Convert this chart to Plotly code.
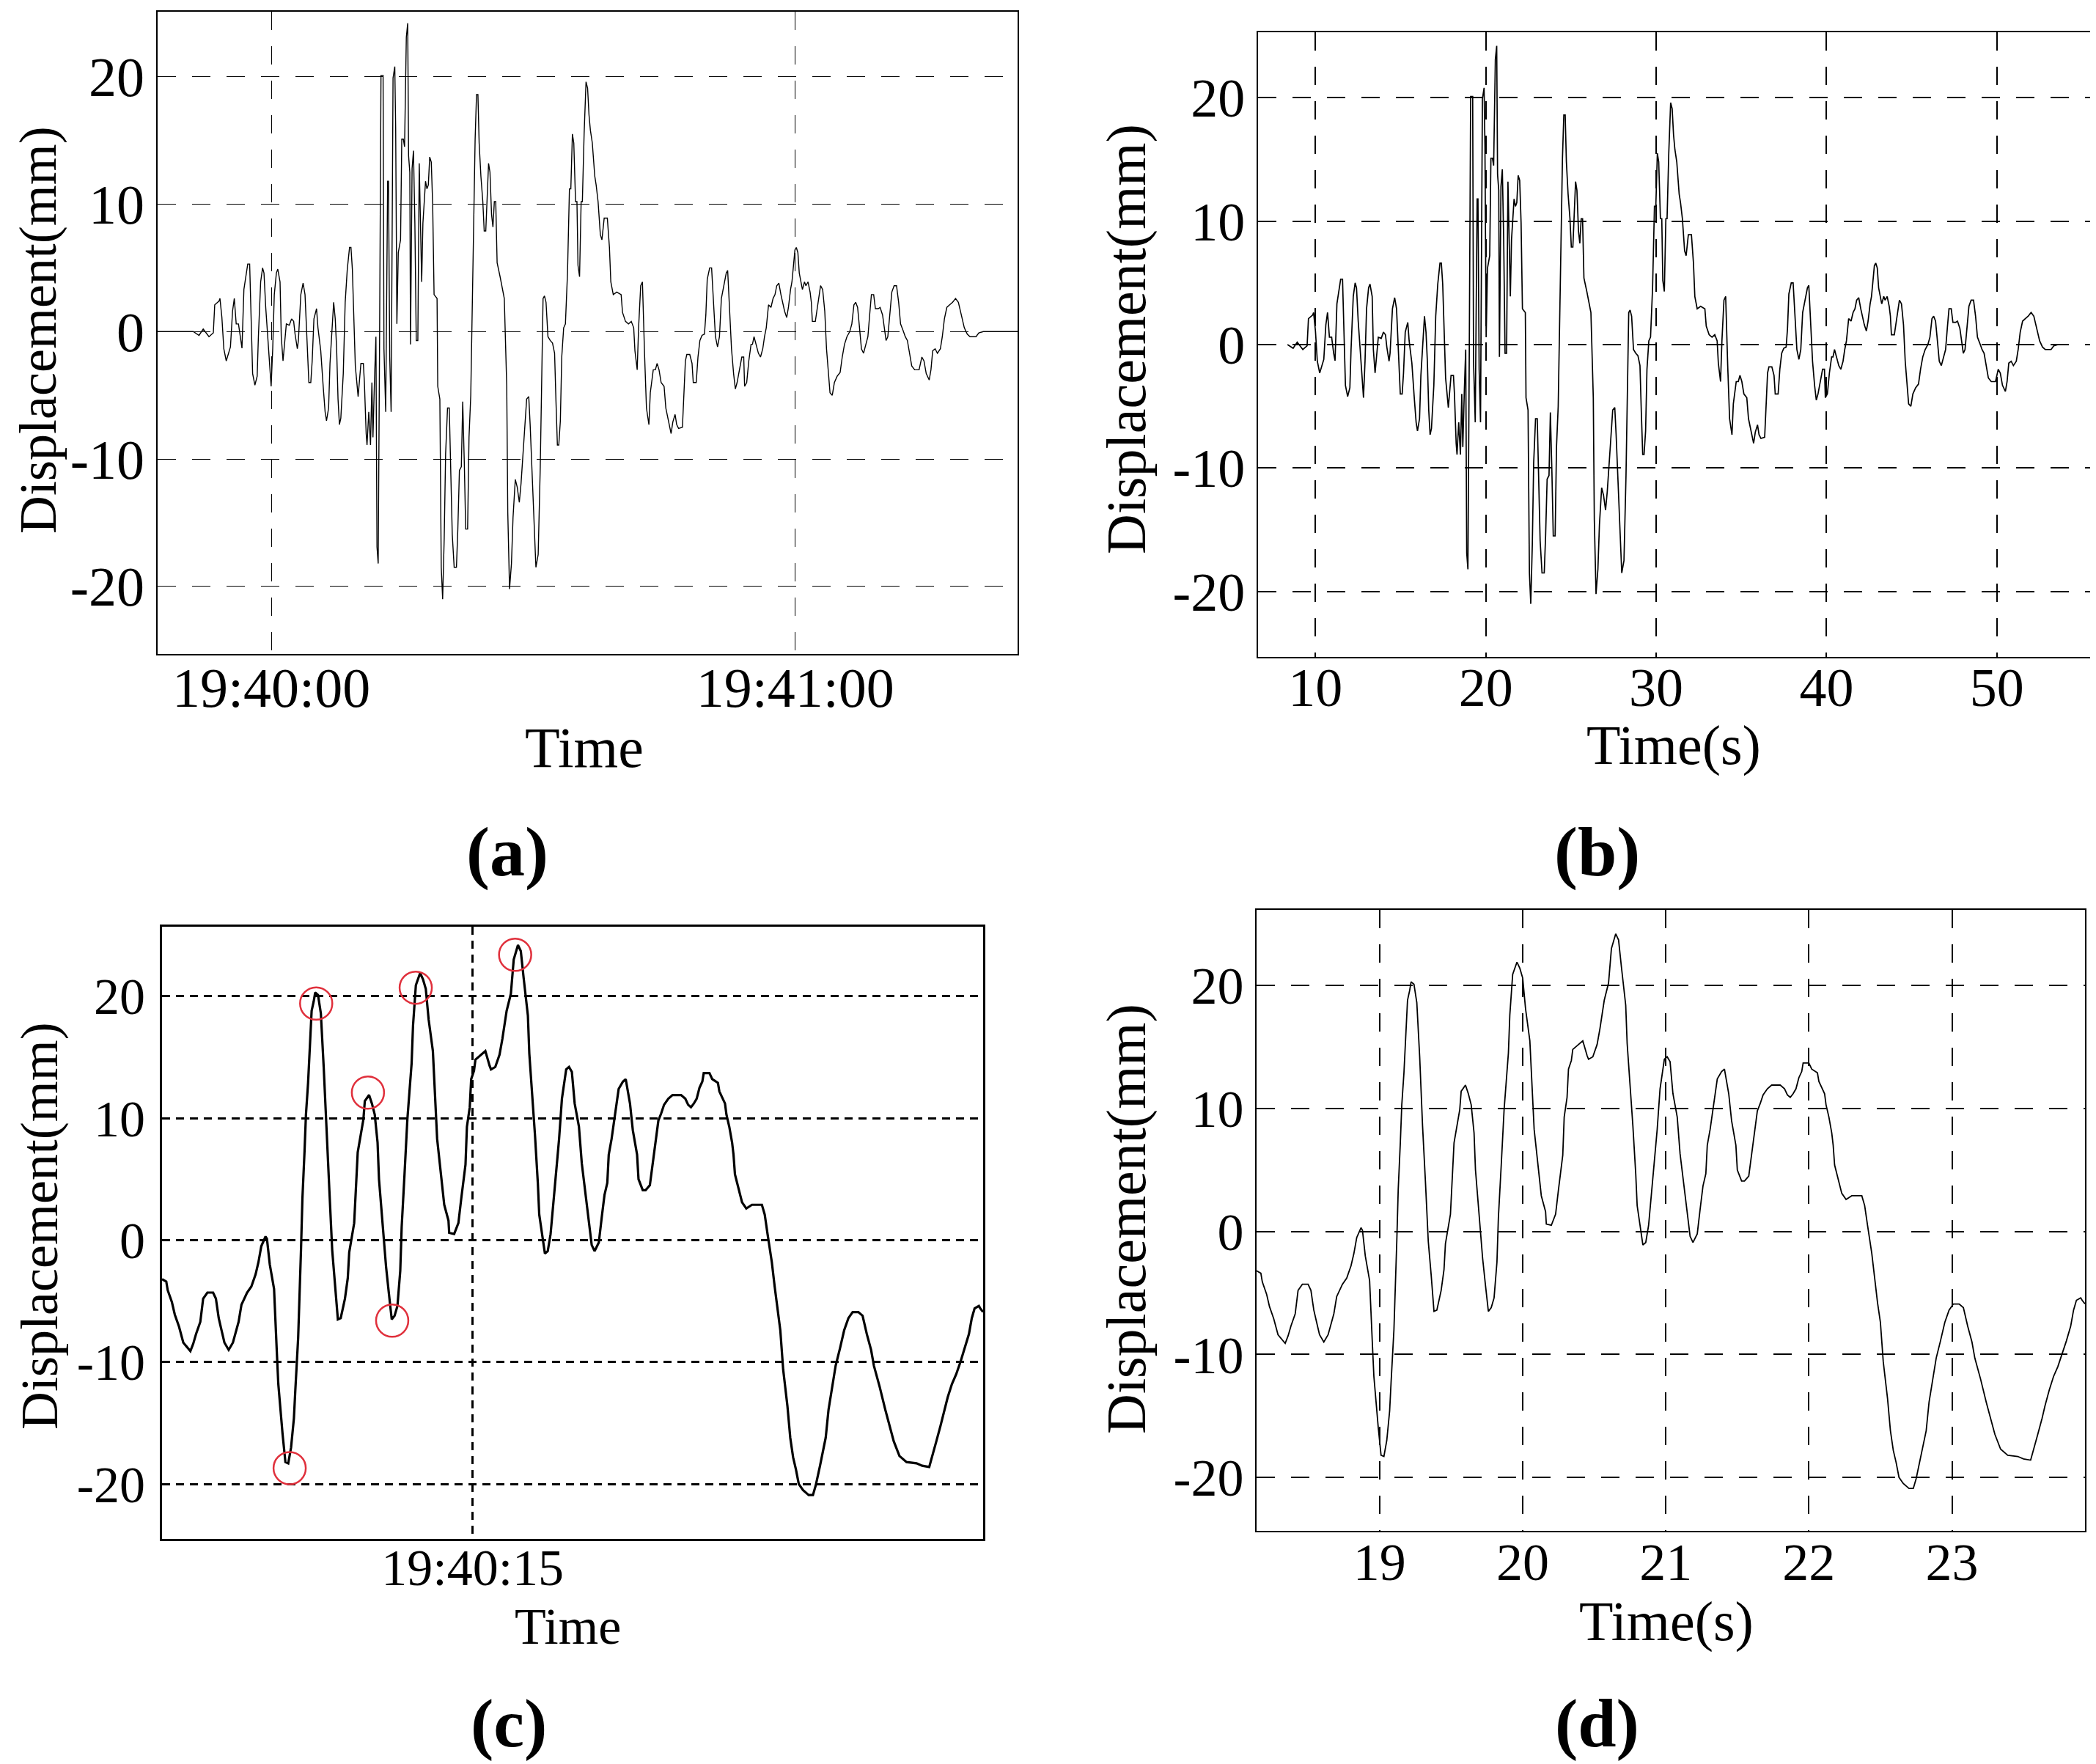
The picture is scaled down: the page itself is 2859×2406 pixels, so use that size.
import plotly.graph_objects as go

W, H = 2859, 2406
FONT = "Liberation Serif"

# ---------------- data ----------------
# full record, time in seconds (panel b); panel a shows the same record on a clock axis
b_time = [
    8.36, 8.69, 8.93, 9.26, 9.51, 9.59, 9.84, 9.89, 10.00, 10.11,
    10.25, 10.49, 10.61, 10.71, 10.82, 10.95, 11.07, 11.15, 11.26, 11.48,
    11.59, 11.64, 11.76, 11.89, 12.02, 12.09, 12.22, 12.33, 12.41, 12.51,
    12.63, 12.74, 12.82, 12.91, 13.00, 13.12, 13.20, 13.33, 13.40, 13.50,
    13.58, 13.69, 13.86, 13.99, 14.11, 14.19, 14.32, 14.38, 14.52, 14.65,
    14.76, 14.84, 14.98, 15.09, 15.17, 15.27, 15.42, 15.50, 15.66, 15.80,
    15.91, 15.99, 16.11, 16.19, 16.29, 16.40, 16.49, 16.57, 16.65, 16.73,
    16.81, 16.95, 17.06, 17.18, 17.31, 17.39, 17.47, 17.55, 17.64, 17.80,
    17.88, 17.96, 18.10, 18.16, 18.26, 18.31, 18.41, 18.51, 18.59, 18.65,
    18.74, 18.82, 18.88, 18.95, 19.03, 19.11, 19.23, 19.28, 19.38, 19.49,
    19.54, 19.61, 19.69, 19.80, 19.90, 19.95, 20.02, 20.10, 20.23, 20.30,
    20.39, 20.46, 20.56, 20.64, 20.69, 20.76, 20.80, 20.89, 20.97, 21.05,
    21.13, 21.22, 21.30, 21.38, 21.44, 21.51, 21.66, 21.74, 21.82, 21.90,
    21.99, 22.07, 22.15, 22.32, 22.36, 22.48, 22.56, 22.64, 22.73, 22.81,
    22.92, 23.02, 23.09, 23.19, 23.30, 23.43, 23.51, 23.60, 23.71, 23.79,
    23.88, 23.96, 24.07, 24.15, 24.25, 24.37, 24.50, 24.58, 24.66, 24.73,
    24.83, 24.94, 25.02, 25.11, 25.19, 25.27, 25.35, 25.44, 25.52, 25.60,
    25.68, 25.76, 25.93, 26.17, 26.31, 26.37, 26.47, 26.58, 26.67, 26.80,
    26.91, 27.03, 27.13, 27.24, 27.32, 27.45, 27.57, 27.65, 27.82, 27.98,
    28.11, 28.23, 28.31, 28.39, 28.47, 28.56, 28.67, 28.80, 28.93, 29.05,
    29.13, 29.21, 29.29, 29.38, 29.46, 29.57, 29.67, 29.79, 29.90, 29.98,
    30.07, 30.15, 30.25, 30.33, 30.39, 30.48, 30.57, 30.64, 30.74, 30.85,
    30.94, 31.02, 31.10, 31.21, 31.35, 31.43, 31.54, 31.67, 31.76, 31.89,
    32.07, 32.19, 32.27, 32.41, 32.61, 32.86, 32.94, 33.11, 33.28, 33.44,
    33.58, 33.65, 33.78, 33.86, 33.98, 34.08, 34.20, 34.31, 34.45, 34.53,
    34.70, 34.82, 34.92, 35.03, 35.15, 35.32, 35.42, 35.54, 35.62, 35.72,
    35.82, 35.95, 36.04, 36.15, 36.37, 36.45, 36.54, 36.62, 36.79, 36.92,
    36.99, 37.16, 37.26, 37.37, 37.49, 37.63, 37.71, 37.79, 37.93, 38.04,
    38.16, 38.26, 38.38, 38.49, 38.60, 38.76, 38.88, 38.96, 39.06, 39.18,
    39.30, 39.40, 39.50, 39.63, 39.77, 39.88, 39.93, 40.05, 40.17, 40.30,
    40.38, 40.47, 40.60, 40.72, 40.84, 40.97, 41.07, 41.17, 41.30, 41.44,
    41.56, 41.67, 41.77, 41.89, 42.01, 42.11, 42.22, 42.34, 42.44, 42.56,
    42.64, 42.73, 42.81, 42.89, 42.98, 43.06, 43.14, 43.24, 43.36, 43.44,
    43.56, 43.68, 43.75, 43.81, 43.98, 44.06, 44.18, 44.28, 44.40, 44.52,
    44.62, 44.72, 44.82, 44.95, 45.07, 45.23, 45.40, 45.52, 45.65, 45.79,
    45.95, 46.07, 46.19, 46.29, 46.40, 46.49, 46.62, 46.74, 46.86, 46.99,
    47.09, 47.19, 47.32, 47.42, 47.58, 47.69, 47.83, 47.96, 48.03, 48.13,
    48.24, 48.36, 48.49, 48.63, 48.75, 48.86, 49.00, 49.13, 49.25, 49.36,
    49.50, 49.67, 49.92, 50.08, 50.20, 50.33, 50.50, 50.60, 50.70, 50.84,
    50.97, 51.14, 51.25, 51.37, 51.51, 51.67, 51.84, 52.01, 52.17, 52.34,
    52.51, 52.68, 52.84, 53.18, 53.34, 53.60,
]
b_disp = [
    0.0, -0.3, 0.2, -0.4, -0.1, 2.1, 2.4, 2.6, 1.1, -1.35,
    -2.3, -1.2, 1.6, 2.6, 0.6, 0.6, -0.7, -1.3, 3.3, 5.3,
    5.3, 2.9, -3.3, -4.2, -3.5, -0.4, 3.9, 5.0, 4.6, 1.9,
    -0.4, -2.3, -4.3, -1.35, 2.9, 4.6, 4.9, 3.9, -0.4, -2.3,
    -1.1, 0.6, 0.5, 1.0, 0.8, -0.2, -1.35, -0.7, 2.9, 3.8,
    2.9, 0.3, -4.0, -4.0, -2.3, 1.0, 1.8, 0.3, -1.5, -4.3,
    -6.3, -7.0, -6.0, -2.5, -0.4, 2.3, 1.0, -1.35, -5.3, -7.3,
    -6.8, -3.3, 2.3, 4.9, 6.6, 6.6, 4.9, 1.3, -2.7, -5.1,
    -3.7, -2.5, -2.5, -4.0, -8.0, -8.9, -6.3, -8.9, -4.0, -8.3,
    -3.7, -0.4, -16.9, -18.2, -0.5, 20.1, 20.1, -1.35, -6.3, 11.8,
    11.8, -2.0, -6.3, 19.9, 20.8, 16.0, 0.6, 6.2, 7.2, 15.1,
    15.1, 14.5, 23.1, 24.2, 13.8, 12.5, -1.0, 12.8, 14.2, 8.5,
    -0.7, -0.7, 13.2, 8.5, 3.9, 8.5, 11.8, 11.2, 11.5, 13.7,
    13.3, 9.9, 2.9, 2.6, -4.3, -5.3, -18.5, -21.0, -16.2, -9.6,
    -6.0, -6.0, -10.9, -15.9, -18.5, -18.5, -15.5, -10.9, -10.6, -5.5,
    -10.3, -15.5, -15.5, -8.3, -5.0, 4.6, 15.1, 18.6, 18.6, 14.8,
    12.2, 10.2, 7.9, 7.9, 10.5, 13.2, 12.5, 9.2, 8.2, 10.2,
    10.2, 5.4, 4.3, 2.6, -4.3, -14.2, -20.2, -18.2, -14.6, -11.6,
    -12.2, -13.4, -11.9, -9.9, -8.0, -5.3, -5.1, -7.3, -12.9, -18.5,
    -17.5, -10.6, -4.0, 2.6, 2.8, 2.3, -0.4, -0.7, -0.9, -1.7,
    -5.5, -8.9, -8.9, -7.0, -2.0, 0.3, 0.6, 4.6, 11.2, 11.2,
    15.5, 14.8, 10.2, 10.2, 5.2, 4.3, 10.2, 10.2, 15.5, 19.6,
    19.1, 17.0, 15.8, 14.8, 12.2, 11.5, 10.2, 7.6, 7.2, 8.9,
    8.9, 6.6, 3.9, 2.9, 3.1, 2.9, 1.5, 0.8, 0.6, 0.8,
    0.3, -1.5, -3.0, 0.3, 3.6, 3.9, -1.7, -6.0, -7.3, -4.8,
    -3.0, -3.0, -2.5, -3.0, -4.0, -4.3, -6.0, -6.8, -7.3, -8.0,
    -7.1, -6.5, -7.3, -7.6, -7.5, -5.3, -2.3, -1.8, -1.8, -2.5,
    -4.0, -4.0, -2.0, -0.7, -0.3, -0.2, 1.3, 4.1, 5.0, 5.0,
    1.9, -0.4, -1.2, -0.4, 2.6, 3.8, 4.6, 4.8, 1.6, -1.35,
    -3.3, -4.5, -4.0, -3.0, -2.0, -2.0, -4.3, -4.0, -2.3, -1.0,
    -1.0, -0.4, -1.0, -1.7, -2.0, -1.35, -0.4, 0.3, 2.1, 1.9,
    2.6, 2.9, 3.6, 3.8, 2.9, 2.3, 1.6, 1.1, 1.9, 3.3,
    3.9, 5.2, 6.4, 6.6, 6.2, 4.6, 4.1, 3.3, 3.9, 3.6,
    3.9, 3.1, 2.3, 0.8, 0.8, 1.6, 2.9, 3.6, 3.3, 1.6,
    -1.35, -3.3, -4.8, -5.0, -4.0, -3.5, -3.2, -2.0, -1.0, -0.4,
    0.0, 0.6, 2.1, 2.3, 1.9, 0.6, -1.35, -1.7, -1.0, -0.4,
    1.3, 2.9, 2.9, 1.8, 1.8, 1.9, 1.3, 0.1, -0.7, -0.4,
    1.3, 3.1, 3.6, 3.6, 2.3, 0.6, 0.1, -0.4, -0.7, -1.7,
    -2.7, -3.0, -3.0, -2.0, -2.3, -3.3, -3.8, -3.0, -1.5, -1.35,
    -1.7, -1.35, -0.4, 1.0, 1.9, 2.1, 2.3, 2.6, 2.3, 1.3,
    0.3, -0.2, -0.4, -0.4, -0.1, 0.0,
]
# quiet (zero) record at the two ends of the clock-time panel (a)
a_quiet_time = [6.32, 55.56]
a_quiet_disp = [0.0, 0.0]

# detailed 18-24 s window (panels c and d)
d_time = [
    18.14, 18.17, 18.18, 18.21, 18.23, 18.26, 18.29, 18.31, 18.34, 18.36,
    18.38, 18.41, 18.43, 18.46, 18.50, 18.52, 18.54, 18.56, 18.58, 18.61,
    18.64, 18.68, 18.70, 18.74, 18.77, 18.80, 18.82, 18.84, 18.87, 18.88,
    18.90, 18.93, 18.94, 18.95, 18.96, 18.98, 18.99, 19.01, 19.03, 19.05,
    19.07, 19.08, 19.10, 19.12, 19.13, 19.145, 19.155, 19.17, 19.185, 19.195,
    19.21, 19.22, 19.24, 19.26, 19.28, 19.30, 19.32, 19.34, 19.36, 19.38,
    19.40, 19.43, 19.45, 19.46, 19.495, 19.505, 19.52, 19.56, 19.57, 19.60,
    19.62, 19.64, 19.66, 19.67, 19.69, 19.72, 19.74, 19.76, 19.78, 19.80,
    19.82, 19.83, 19.85, 19.87, 19.90, 19.91, 19.93, 19.96, 19.98, 20.00,
    20.02, 20.05, 20.08, 20.12, 20.13, 20.16, 20.165, 20.20, 20.23, 20.25,
    20.28, 20.29, 20.31, 20.32, 20.34, 20.35, 20.39, 20.42, 20.45, 20.46,
    20.49, 20.52, 20.54, 20.57, 20.60, 20.62, 20.65, 20.67, 20.69, 20.72,
    20.73, 20.75, 20.77, 20.79, 20.80, 20.82, 20.84, 20.86, 20.88, 20.91,
    20.94, 20.96, 20.99, 21.01, 21.03, 21.05, 21.08, 21.10, 21.12, 21.15,
    21.17, 21.19, 21.22, 21.24, 21.26, 21.28, 21.29, 21.31, 21.34, 21.36,
    21.39, 21.41, 21.44, 21.46, 21.49, 21.50, 21.53, 21.55, 21.58, 21.60,
    21.62, 21.64, 21.66, 21.68, 21.71, 21.74, 21.80, 21.83, 21.85, 21.87,
    21.89, 21.91, 21.93, 21.95, 21.96, 22.00, 22.02, 22.06, 22.07, 22.11,
    22.12, 22.14, 22.16, 22.17, 22.18, 22.21, 22.23, 22.26, 22.30, 22.37,
    22.39, 22.41, 22.44, 22.46, 22.48, 22.50, 22.52, 22.55, 22.57, 22.59,
    22.61, 22.63, 22.66, 22.70, 22.73, 22.75, 22.78, 22.82, 22.84, 22.87,
    22.89, 22.92, 22.95, 22.98, 23.01, 23.05, 23.08, 23.11, 23.14, 23.16,
    23.20, 23.24, 23.27, 23.30, 23.34, 23.39, 23.46, 23.50, 23.55, 23.57,
    23.60, 23.63, 23.65, 23.68, 23.71, 23.74, 23.77, 23.80, 23.83, 23.85,
    23.87, 23.90, 23.91, 23.93,
]
d_disp = [
    -3.2, -3.4, -4.1, -5.1, -6.1, -7.1, -8.4, -8.7, -9.1, -8.5,
    -7.7, -6.7, -4.8, -4.3, -4.3, -4.8, -6.4, -7.4, -8.4, -9.0,
    -8.4, -6.7, -5.3, -4.3, -3.8, -2.8, -1.8, -0.5, 0.3, 0.1,
    -2.0, -4.0, -7.1, -9.3, -11.8, -14.6, -15.9, -18.2, -18.3, -17.0,
    -14.6, -12.3, -8.0, -0.8, 3.4, 7.3, 10.3, 12.9, 16.5, 18.8,
    19.6, 20.3, 20.1, 18.6, 14.2, 8.6, 4.1, -0.8, -3.5, -6.5,
    -6.4, -4.8, -3.1, -1.0, 1.4, 3.7, 7.2, 9.9, 11.4, 11.9,
    11.2, 10.3, 8.0, 5.0, 2.1, -2.2, -4.4, -6.5, -6.2, -5.4,
    -2.5, 1.1, 5.4, 9.9, 14.5, 17.6, 20.9, 21.9, 21.4, 20.6,
    18.1, 15.5, 8.3, 3.7, 2.9, 1.6, 0.6, 0.5, 1.4, 3.4,
    6.2, 9.3, 10.9, 13.2, 13.9, 14.8, 15.2, 15.5, 14.3, 14.0,
    14.2, 15.2, 16.5, 18.8, 20.2, 23.0, 24.2, 23.7, 21.5, 18.4,
    15.3, 12.2, 8.6, 4.7, 2.1, 0.5, -1.1, -0.9, 0.5, 4.4,
    8.3, 11.6, 14.0, 14.2, 13.8, 11.2, 9.3, 6.3, 4.4, 1.6,
    -0.4, -0.9, -0.2, 1.8, 3.7, 4.7, 7.0, 8.3, 10.9, 12.4,
    13.0, 13.2, 11.2, 9.0, 7.0, 5.0, 4.1, 4.1, 4.5, 6.3,
    8.3, 9.8, 10.4, 11.1, 11.6, 11.9, 11.9, 11.6, 11.1, 10.9,
    11.2, 11.6, 12.5, 13.0, 13.7, 13.7, 13.2, 12.9, 12.2, 11.2,
    10.3, 9.3, 8.0, 7.0, 5.4, 4.1, 3.1, 2.6, 2.9, 2.9,
    2.1, 0.5, -1.8, -3.8, -5.8, -7.4, -10.6, -13.6, -16.2, -17.8,
    -18.8, -20.0, -20.5, -20.9, -20.9, -20.1, -18.5, -16.2, -13.9, -11.6,
    -10.3, -8.9, -7.4, -6.4, -5.9, -5.9, -6.2, -7.7, -9.0, -10.3,
    -12.0, -13.9, -15.2, -16.5, -17.7, -18.2, -18.3, -18.5, -18.6, -17.8,
    -16.5, -15.2, -14.2, -12.9, -11.8, -11.0, -10.0, -8.9, -7.7, -6.4,
    -5.6, -5.4, -5.6, -5.9,
]
# peaks marked with red circles in panel (c)
c_peak_time = [19.04, 19.227, 19.592, 19.763, 19.929, 20.63]
c_peak_disp = [-18.7, 19.4, 12.1, -6.6, 20.7, 23.4]

# tick labels
y_tick_vals = [-20, -10, 0, 10, 20]
y_tick_text = ["-20", "-10", "0", "10", "20"]
a_tick_vals = [12.83, 42.83]
a_tick_text = ["19:40:00", "19:41:00"]
b_tick_vals = [10, 20, 30, 40, 50]
b_tick_text = ["10", "20", "30", "40", "50"]
c_tick_vals = [20.33]
c_tick_text = ["19:40:15"]
d_tick_vals = [19, 20, 21, 22, 23]
d_tick_text = ["19", "20", "21", "22", "23"]

# ---------------- figure ----------------
def px_x(p):
    return p / W


def px_y(p):
    return 1 - p / H


fig = go.Figure()
a_x = [a_quiet_time[0]] + b_time + [a_quiet_time[1]]
a_y = [a_quiet_disp[0]] + b_disp + [a_quiet_disp[1]]
fig.add_trace(go.Scatter(x=a_x, y=a_y, mode="lines", line=dict(color="black", width=1.4),
                         xaxis="x", yaxis="y", hoverinfo="skip"))
fig.add_trace(go.Scatter(x=b_time, y=b_disp, mode="lines", line=dict(color="black", width=1.7),
                         xaxis="x2", yaxis="y2", hoverinfo="skip"))
fig.add_trace(go.Scatter(x=d_time, y=d_disp, mode="lines", line=dict(color="black", width=3.2),
                         xaxis="x3", yaxis="y3", hoverinfo="skip"))
fig.add_trace(go.Scatter(x=c_peak_time, y=c_peak_disp, mode="markers",
                         marker=dict(symbol="circle-open", size=44, color="#e0303c",
                                     line=dict(color="#e0303c", width=2.5)),
                         xaxis="x3", yaxis="y3", hoverinfo="skip"))
fig.add_trace(go.Scatter(x=d_time, y=d_disp, mode="lines", line=dict(color="black", width=1.8),
                         xaxis="x4", yaxis="y4", hoverinfo="skip"))


def axis(domain, rng, tv, tt, size, gw, dash, lw, anchor, standoff):
    return dict(domain=domain, range=rng, tickmode="array", tickvals=tv, ticktext=tt,
                showgrid=True, gridcolor="black", gridwidth=gw, griddash=dash,
                zeroline=False, showline=True, mirror=True, linecolor="black",
                linewidth=lw, ticks="", ticklabelstandoff=standoff,
                tickfont=dict(family=FONT, size=size, color="black"),
                anchor=anchor, fixedrange=True)


DASH = "25px,22px"
DOT = "11px,8px"
layout = dict(
    width=W, height=H, margin=dict(l=0, r=0, t=0, b=0),
    paper_bgcolor="white", plot_bgcolor="white", showlegend=False,
    xaxis=axis([px_x(207), px_x(1380)], [6.32, 55.56], a_tick_vals, a_tick_text, 76, 1.3, DASH, 1.6, "y", -21),
    yaxis=axis([px_y(884), px_y(8)], [-25.3, 25.1], y_tick_vals, y_tick_text, 76, 1.3, DASH, 1.6, "x", 1),
    xaxis2=axis([px_x(1708), px_x(2848)], [6.63, 55.69], b_tick_vals, b_tick_text, 74, 2, DASH, 2, "y2", -24),
    yaxis2=axis([px_y(888), px_y(36)], [-25.3, 25.3], y_tick_vals, y_tick_text, 74, 1.5, DASH, 2, "x2", 1),
    xaxis3=axis([px_x(213), px_x(1333)], [18.14, 23.93], c_tick_vals, c_tick_text, 70, 2.5, DOT, 3, "y3", -24),
    yaxis3=axis([px_y(2091), px_y(1256)], [-24.5, 25.7], y_tick_vals, y_tick_text, 70, 2.5, DOT, 3, "x3", 6),
    xaxis4=axis([px_x(1706), px_x(2836)], [18.14, 23.93], d_tick_vals, d_tick_text, 72, 2, DASH, 2, "y4", -21),
    yaxis4=axis([px_y(2080), px_y(1233)], [-24.35, 26.15], y_tick_vals, y_tick_text, 72, 1.6, DASH, 2, "x4", 1),
)

ann = []


def add_text(text, x, y, size, angle=0):
    ann.append(dict(text=text, x=px_x(x), y=px_y(y), xref="paper", yref="paper",
                    xanchor="center", yanchor="middle", showarrow=False, textangle=angle,
                    font=dict(family=FONT, size=size, color="black")))


add_text("Displacement(mm)", 44, 442, 72, -90)
add_text("Time", 789, 1012, 78)
add_text("<b>(a)</b>", 684, 1153, 96)
add_text("Displacement(mm)", 1528, 455, 76, -90)
add_text("Time(s)", 2275, 1009, 76)
add_text("<b>(b)</b>", 2170, 1153, 96)
add_text("Displacement(mm)", 46, 1664, 72, -90)
add_text("Time", 766, 2210, 70)
add_text("<b>(c)</b>", 686, 2342, 94)
add_text("Displacement(mm)", 1528, 1655, 76, -90)
add_text("Time(s)", 2265, 2203, 76)
add_text("<b>(d)</b>", 2170, 2342, 94)
layout["annotations"] = ann

fig.update_layout(**layout)
fig.write_html("out.html", config={"displayModeBar": False})
